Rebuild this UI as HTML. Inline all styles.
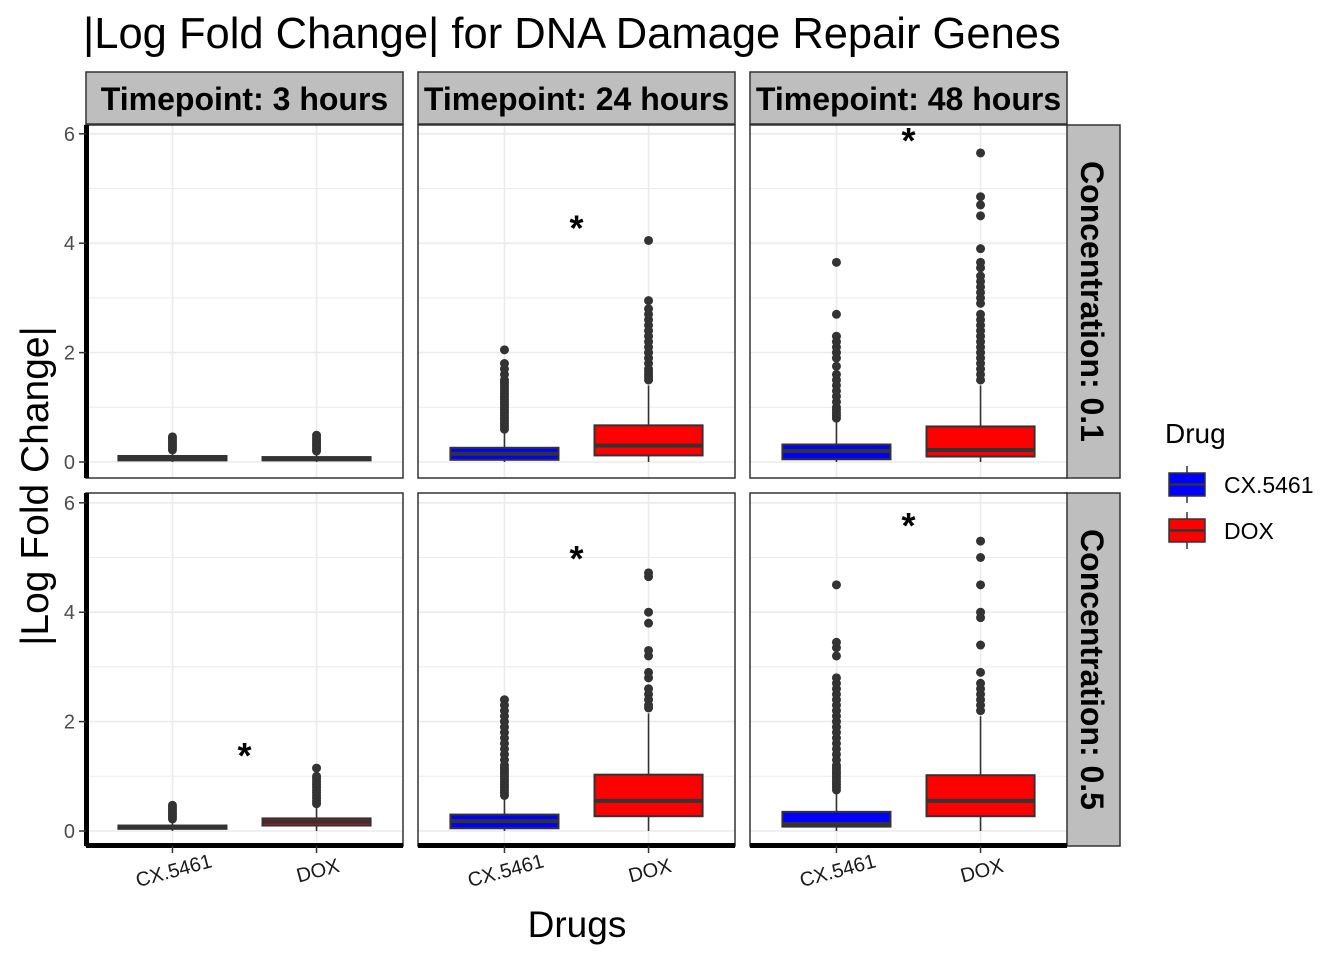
<!DOCTYPE html>
<html><head><meta charset="utf-8"><style>
html,body{margin:0;padding:0;background:#fff;}
svg{display:block;font-family:"Liberation Sans",Arial,sans-serif;}
</style></head><body>
<svg id="chart" width="1344" height="960" viewBox="0 0 1344 960" xmlns="http://www.w3.org/2000/svg">
<text x="83" y="48" font-size="43.5" fill="#000">|Log Fold Change| for DNA Damage Repair Genes</text>
<g id="panels"></g>
<text x="577" y="937" font-size="37" text-anchor="middle">Drugs</text>
<text transform="translate(48,486) rotate(-90)" font-size="39" text-anchor="middle">|Log Fold Change|</text>
<g>
<text x="1165" y="443" font-size="28">Drug</text>
<g>
<line x1="1187" y1="466" x2="1187" y2="503" stroke="#333" stroke-width="1.5"/>
<rect x="1169" y="473" width="36" height="23" fill="#0000ff" stroke="#333" stroke-width="1.5"/>
<line x1="1169" y1="484.5" x2="1205" y2="484.5" stroke="#333" stroke-width="2.5"/>
<text x="1224" y="493" font-size="23">CX.5461</text></g>
<g>
<line x1="1187" y1="512" x2="1187" y2="549" stroke="#333" stroke-width="1.5"/>
<rect x="1169" y="519" width="36" height="23" fill="#ff0000" stroke="#333" stroke-width="1.5"/>
<line x1="1169" y1="530.5" x2="1205" y2="530.5" stroke="#333" stroke-width="2.5"/>
<text x="1224" y="539" font-size="23">DOX</text></g>
</g>
</svg>
<script>
const categories = ["CX.5461","DOX"];
const timepoints = ["Timepoint: 3 hours","Timepoint: 24 hours","Timepoint: 48 hours"];
const concentrations = ["Concentration: 0.1","Concentration: 0.5"];
const yTicks = [0,2,4,6];
// per panel [row][col] -> [CX stats, DOX stats]; stats = [lo, q1, median, q3, hi]
const boxStats = [
 [[[0,0.03,0.07,0.11,0.2],[0,0.03,0.06,0.09,0.18]],
  [[0,0.04,0.15,0.26,0.55],[0,0.12,0.3,0.67,1.4]],
  [[0,0.05,0.2,0.32,0.72],[0,0.1,0.22,0.65,1.4]]],
 [[[0,0.04,0.07,0.1,0.2],[0,0.1,0.17,0.23,0.45]],
  [[0,0.05,0.18,0.3,0.6],[0,0.27,0.55,1.03,2.15]],
  [[0,0.08,0.13,0.35,0.7],[0,0.27,0.55,1.02,2.1]]]
];
const outliers = [
 [[[0.22,0.26,0.3,0.34,0.38,0.42,0.46],[0.2,0.24,0.28,0.32,0.36,0.4,0.44,0.49]],
  [[0.6,0.65,0.7,0.75,0.8,0.85,0.9,0.95,1.0,1.05,1.1,1.15,1.2,1.25,1.3,1.35,1.4,1.45,1.5,1.6,1.7,1.8,2.05],[1.5,1.55,1.6,1.65,1.7,1.8,1.9,2.0,2.1,2.2,2.3,2.4,2.5,2.6,2.7,2.8,2.95,4.05]],
  [[0.8,0.85,0.9,0.95,1.0,1.1,1.2,1.3,1.4,1.5,1.6,1.75,1.9,2.0,2.1,2.2,2.3,2.7,3.65],[1.5,1.6,1.7,1.8,1.9,2.0,2.1,2.2,2.3,2.4,2.5,2.6,2.7,2.9,3.0,3.1,3.2,3.3,3.4,3.55,3.65,3.9,4.5,4.7,4.85,5.65]]],
 [[[0.22,0.26,0.3,0.34,0.38,0.42,0.47],[0.5,0.55,0.6,0.65,0.7,0.75,0.8,0.85,0.9,0.95,1.0,1.15]],
  [[0.65,0.7,0.75,0.8,0.85,0.9,0.95,1.0,1.05,1.1,1.15,1.2,1.3,1.4,1.5,1.6,1.7,1.8,1.9,2.0,2.1,2.2,2.3,2.4],[2.25,2.3,2.4,2.5,2.6,2.8,2.9,3.2,3.3,3.8,4.0,4.65,4.72]],
  [[0.75,0.8,0.85,0.9,0.95,1.0,1.05,1.1,1.15,1.2,1.3,1.4,1.5,1.6,1.7,1.8,1.9,2.0,2.1,2.2,2.3,2.4,2.5,2.6,2.7,2.8,3.2,3.35,3.45,4.5],[2.2,2.3,2.4,2.5,2.6,2.7,2.9,3.4,3.9,4.0,4.5,5.0,5.3]]]
];
const starValues = [[null,4.4,6.0],[1.5,5.1,5.7]];
const fills = ["#0000ff","#ff0000"];

const NS="http://www.w3.org/2000/svg";
const g=document.getElementById("panels");
function mk(t,a,p){const e=document.createElementNS(NS,t);for(const k in a)e.setAttribute(k,a[k]);(p||g).appendChild(e);return e;}
const colX=[86,418,750], pw=317, rowY=[125,493], ph=353;
const yZero=[462,831], pxPer=54.7;
function yS(r,v){return yZero[r]-v*pxPer;}
function xS(c,i){return colX[c]+(0.6+i)/2.2*pw;}
const bw=0.75/2.2*pw;

for(let c=0;c<3;c++){
  const s=mk("g",{});  
  mk("rect",{x:colX[c],y:72,width:pw,height:52,fill:"#bebebe",stroke:"#333","stroke-width":1.5},s);
  const t=mk("text",{x:colX[c]+pw/2,y:110,"font-size":32,"font-weight":"bold","text-anchor":"middle"},s); t.textContent=timepoints[c];
}
for(let r=0;r<2;r++){
  const s=mk("g",{});  
  mk("rect",{x:1066,y:rowY[r],width:54,height:ph,fill:"#bebebe",stroke:"#333","stroke-width":1.5},s);
  const t=mk("text",{transform:`translate(1081,${rowY[r]+ph/2}) rotate(90)`,"font-size":32,"font-weight":"bold","text-anchor":"middle"},s); t.textContent=concentrations[r];
}
for(let r=0;r<2;r++)for(let c=0;c<3;c++){
  const p=mk("g",{});  
  mk("rect",{x:colX[c],y:rowY[r],width:pw,height:ph,fill:"#fff"},p);
  for(let v=0;v<=6;v++){const y=yS(r,v);mk("line",{x1:colX[c],x2:colX[c]+pw,y1:y,y2:y,stroke:"#ebebeb","stroke-width":v%2?1:1.6},p);}
  for(let i=0;i<2;i++){const x=xS(c,i);mk("line",{x1:x,x2:x,y1:rowY[r],y2:rowY[r]+ph,stroke:"#ebebeb","stroke-width":1.6},p);}
  for(let i=0;i<2;i++){
    const st=boxStats[r][c][i], x=xS(c,i);
    const b=mk("g",{},p);  
    mk("line",{x1:x,x2:x,y1:yS(r,st[0]),y2:yS(r,st[1]),stroke:"#333","stroke-width":1.6},b);
    mk("line",{x1:x,x2:x,y1:yS(r,st[3]),y2:yS(r,st[4]),stroke:"#333","stroke-width":1.6},b);
    mk("rect",{x:x-bw/2,y:yS(r,st[3]),width:bw,height:Math.max(1,yS(r,st[1])-yS(r,st[3])),fill:fills[i],stroke:"#333","stroke-width":2},b);
    mk("line",{x1:x-bw/2,x2:x+bw/2,y1:yS(r,st[2]),y2:yS(r,st[2]),stroke:"#333","stroke-width":4},b);
    outliers[r][c][i].forEach(v=>{const d=mk("circle",{cx:x,cy:yS(r,v),r:4.5,fill:"#333"},b);
      
      });
  }
  mk("rect",{x:colX[c],y:rowY[r],width:pw,height:ph,fill:"none",stroke:"#333","stroke-width":1.5},p);
  const sv=starValues[r][c];
  if(sv!==null){const t=mk("text",{x:colX[c]+pw/2,y:yS(r,sv)+19,"font-size":36,"font-weight":"bold","text-anchor":"middle"},p);
    
    
    t.textContent="*";}
  if(c===0){
    const ax=mk("g",{},p);  
    mk("line",{x1:86.5,x2:86.5,y1:rowY[r],y2:rowY[r]+ph,stroke:"#000","stroke-width":5},ax);
    yTicks.forEach(v=>{const y=yS(r,v);mk("line",{x1:79,x2:86,y1:y,y2:y,stroke:"#333","stroke-width":1.5},ax);
      const t=mk("text",{x:75,y:y+7,"font-size":20,fill:"#4d4d4d","text-anchor":"end"},ax);t.textContent=v;});
  }
  if(r===1){
    const ax=mk("g",{},p);  
    mk("line",{x1:colX[c],x2:colX[c]+pw,y1:845.5,y2:845.5,stroke:"#000","stroke-width":5},ax);
    for(let i=0;i<2;i++){const x=xS(c,i);mk("line",{x1:x,x2:x,y1:846,y2:853,stroke:"#333","stroke-width":1.5},ax);
      const t=mk("text",{transform:`translate(${x+3},${877}) rotate(-15)`,"font-size":20,fill:"#1a1a1a","text-anchor":"middle"},ax);t.textContent=categories[i];}
  }
}
</script>
</body></html>
